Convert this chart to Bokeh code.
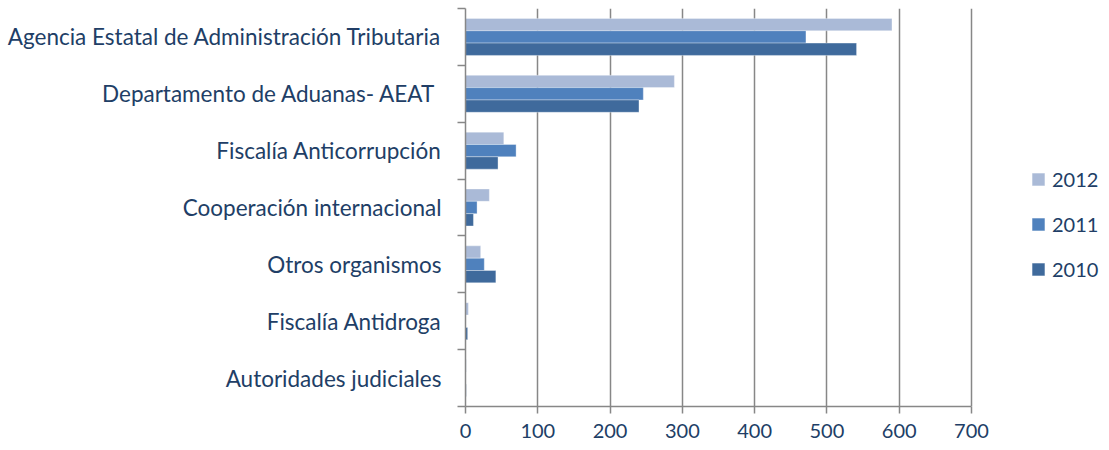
from bokeh.plotting import figure
from bokeh.models import Range1d, FixedTicker, Legend, LegendItem, ColumnDataSource
from bokeh.embed import file_html
from bokeh.resources import INLINE
import numpy as np

categories = [
    "Agencia Estatal de Administración Tributaria",
    "Departamento de Aduanas- AEAT ",
    "Fiscalía Anticorrupción",
    "Cooperación internacional",
    "Otros organismos",
    "Fiscalía Antidroga",
    "Autoridades judiciales",
]
years = ["2012", "2011", "2010"]
v2012 = [590, 289, 53, 33, 21, 4, 1]
v2011 = [471, 246, 70, 16, 26, 0, 0]
v2010 = [541, 240, 45, 11, 42, 3, 1]
x_ticks = [0, 100, 200, 300, 400, 500, 600, 700]
x_max = 700

colors = ["#AABAD7", "#4F81BD", "#3F6A9C"]
text_color = "#213E66"
axis_gray = "#878787"
font = "Lato"

W, H = 1109, 450
left_px, axis_right_px = 465, 971
# extend the frame to the right so the legend can sit inside it
x_end = x_max * (W - left_px) / (axis_right_px - left_px)

n = len(categories)
centers = np.arange(n) + 0.5

p = figure(width=W, height=H, output_backend="svg", toolbar_location=None,
           x_range=Range1d(0, x_end), y_range=Range1d(n, 0),
           min_border_left=left_px, min_border_right=0, min_border_top=8, min_border_bottom=44)
p.outline_line_color = None
p.background_fill_color = "white"

bar_h = 0.217
renderers = []
for k, (yr, vals, col) in enumerate(zip(years, [v2012, v2011, v2010], colors)):
    src = ColumnDataSource(dict(y=centers + (k - 1) * bar_h, right=vals))
    r = p.hbar(y="y", right="right", left=0, height=bar_h, source=src,
               fill_color=col, line_color="white", line_alpha=0.35, line_width=1)
    renderers.append(r)

# y axis
ya = p.yaxis[0]
ya.ticker = FixedTicker(ticks=list(centers), minor_ticks=list(range(n + 1)))
ya.major_label_overrides = {float(c): name for c, name in zip(centers, categories)}
ya.major_tick_out = 0
ya.major_tick_in = 0
ya.major_tick_line_color = None
ya.minor_tick_out = 8
ya.minor_tick_in = 0
ya.minor_tick_line_color = axis_gray
ya.minor_tick_line_width = 1.5
ya.axis_line_color = axis_gray
ya.axis_line_width = 1.5
ya.major_label_standoff = 16
ya.major_label_text_font = font
ya.major_label_text_font_size = "22.5px"
ya.major_label_text_color = text_color

# x axis
xa = p.xaxis[0]
xa.ticker = FixedTicker(ticks=x_ticks)
xa.bounds = (0, x_max)
xa.major_tick_out = 7
xa.major_tick_in = 0
xa.major_tick_line_color = axis_gray
xa.major_tick_line_width = 1.5
xa.minor_tick_line_color = None
xa.axis_line_color = axis_gray
xa.axis_line_width = 1.5
xa.major_label_standoff = 10
xa.axis_label_standoff = 0
xa.major_label_text_font = font
xa.major_label_text_font_size = "20px"
xa.major_label_text_color = text_color

p.xgrid.ticker = FixedTicker(ticks=x_ticks)
p.xgrid.bounds = (0, x_max)
p.xgrid.grid_line_color = axis_gray
p.xgrid.grid_line_width = 1.5
p.ygrid.grid_line_color = None

legend = Legend(items=[LegendItem(label=y, renderers=[r]) for y, r in zip(years, renderers)],
                location=(565, 125), orientation="vertical",
                glyph_width=16, glyph_height=16, label_standoff=6,
                label_text_font=font, label_text_font_size="20px", label_text_color=text_color,
                spacing=21, padding=0, margin=0, border_line_color=None,
                background_fill_alpha=0)
p.add_layout(legend, "center")

open("out.html", "w").write(file_html(p, INLINE))
